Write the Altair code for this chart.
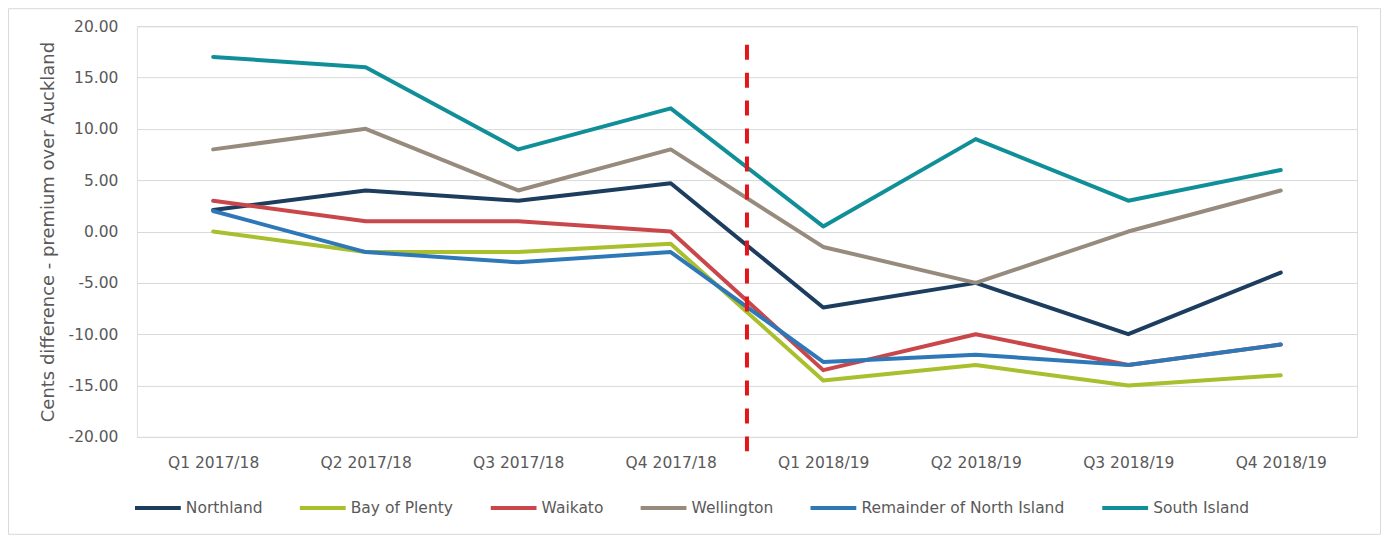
import altair as alt
import pandas as pd

quarters = ["Q1 2017/18", "Q2 2017/18", "Q3 2017/18", "Q4 2017/18",
            "Q1 2018/19", "Q2 2018/19", "Q3 2018/19", "Q4 2018/19"]
regions = ["Northland", "Bay of Plenty", "Waikato", "Wellington",
           "Remainder of North Island", "South Island"]
colors = ["#1C3D5E", "#A9BF2D", "#C9474A", "#978B7E", "#2F78B7", "#118F98"]

northland = [2.1, 4.0, 3.0, 4.7, -7.4, -5.0, -10.0, -4.0]
bay_of_plenty = [0.0, -2.0, -2.0, -1.2, -14.5, -13.0, -15.0, -14.0]
waikato = [3.0, 1.0, 1.0, 0.0, -13.5, -10.0, -13.0, -11.0]
wellington = [8.0, 10.0, 4.0, 8.0, -1.5, -5.0, 0.0, 4.0]
remainder = [2.0, -2.0, -3.0, -2.0, -12.7, -12.0, -13.0, -11.0]
south_island = [17.0, 16.0, 8.0, 12.0, 0.5, 9.0, 3.0, 6.0]

series = [northland, bay_of_plenty, waikato, wellington, remainder, south_island]
rows = []
for name, vals in zip(regions, series):
    for q, v in zip(quarters, vals):
        rows.append({"quarter": q, "region": name, "value": v})
df = pd.DataFrame(rows)

# break marker between the two financial years
break_pos = [4]
break_top = [18.2]
break_bottom = [-22.0]
break_df = pd.DataFrame({"pos": break_pos, "top": break_top, "bottom": break_bottom})

FONT = "DejaVu Sans"
GREY = "#595959"

lines = alt.Chart(df).mark_line(strokeWidth=4, strokeCap="round", strokeJoin="round").encode(
    x=alt.X("quarter:N", sort=quarters,
            scale=alt.Scale(type="point", padding=0.5),
            axis=alt.Axis(title=None, labelAngle=0, ticks=False, domain=False, grid=False,
                          labelPadding=19, labelFontSize=15.5, labelColor=GREY, labelFont=FONT)),
    y=alt.Y("value:Q", scale=alt.Scale(domain=[-20, 20], nice=False, zero=False),
            axis=alt.Axis(title="Cents difference - premium over Auckland", values=list(range(-20, 21, 5)),
                          labelExpr="replace(format(datum.value, '.2f'), '\u2212', '-')",
                          ticks=False, domain=False, grid=True, gridColor="#D9D9D9",
                          labelPadding=19, labelFontSize=15.5, labelColor=GREY, labelFont=FONT,
                          titleFont=FONT, titleFontSize=18, titleFontWeight="normal",
                          titleColor=GREY, titlePadding=10)),
    color=alt.Color("region:N", sort=regions,
                    scale=alt.Scale(domain=regions, range=colors),
                    legend=alt.Legend(title=None, orient="none", direction="horizontal",
                                      legendX=-4, legendY=457,
                                      symbolType="stroke", symbolSize=2100, symbolStrokeWidth=4,
                                      labelFontSize=15.5, labelColor=GREY, labelFont=FONT,
                                      labelLimit=400, labelOffset=3, columnPadding=29)),
    order=alt.Order("region:N"),
)

rule = alt.Chart(break_df).mark_rule(color="#E3161C", strokeWidth=4, strokeDash=[15, 13]).encode(
    x=alt.X("pos:Q", scale=alt.Scale(domain=[0, 8]), axis=None),
    y=alt.Y("top:Q", scale=alt.Scale(domain=[-20, 20], nice=False)),
    y2="bottom:Q",
)

frame = alt.Chart(break_df).mark_rect(fill=None, stroke="#D9D9D9", strokeWidth=1).encode(
    x=alt.value(-128.5), x2=alt.value(1244.5), y=alt.value(-17.5), y2=alt.value(508.5),
)

chart = alt.layer(lines, rule, frame).resolve_scale(x="independent").properties(
    width=1221, height=411,
    autosize=alt.AutoSizeParams(type="none"),
    padding={"left": 129, "top": 18, "right": 24, "bottom": 100},
).configure_view(stroke=None).configure(font=FONT)

chart.save("out.html", embed_options={"renderer": "svg", "actions": False})
